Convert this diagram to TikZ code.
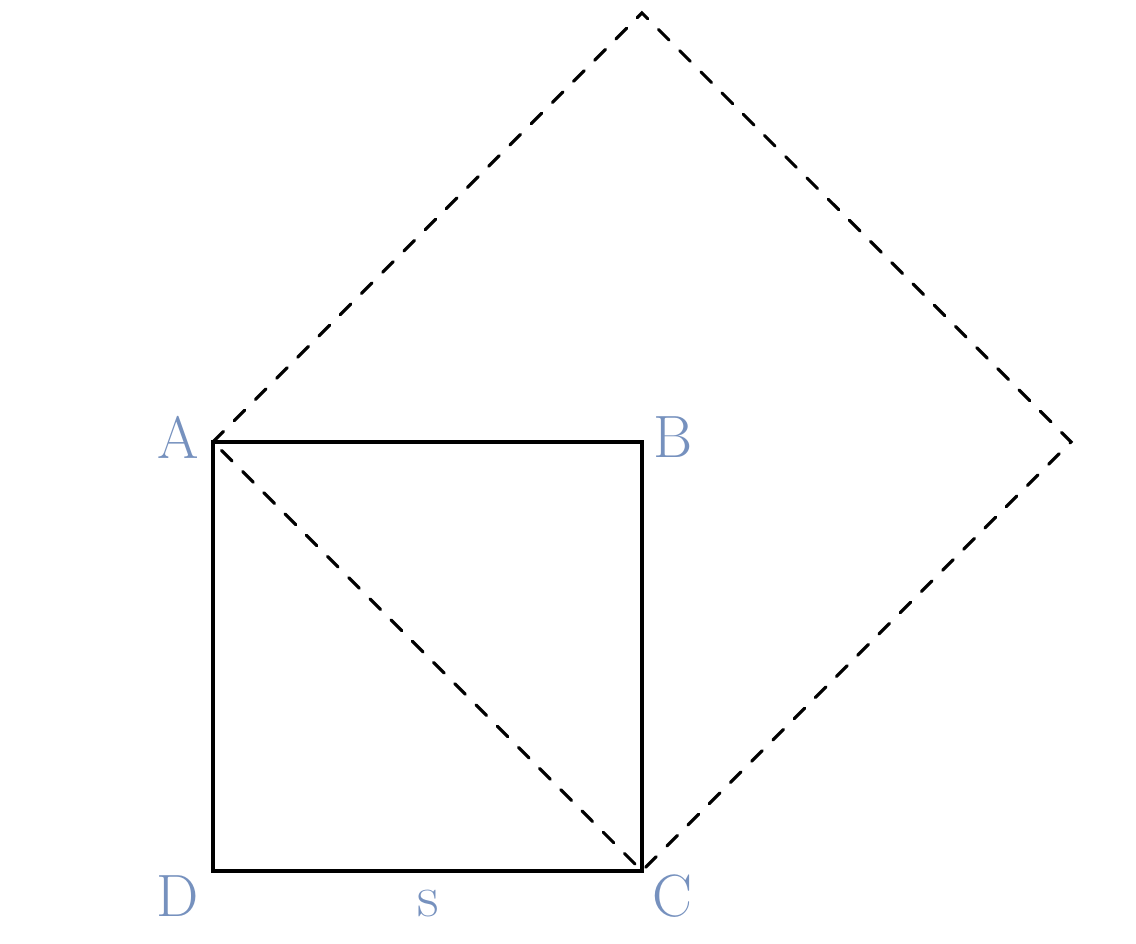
\documentclass[tikz,border=0pt]{standalone}
\usepackage{tikz}
\usetikzlibrary{positioning}
\definecolor{labelblue}{RGB}{118,145,190}
\tikzset{
    %Define style for corner labels
    corner/.style={
           text=labelblue,
           font=\fontsize{17}{20}\selectfont,
           inner sep=0pt,
           text centered},
    %Define style for the sides
    side/.style={
           draw=black,
           line width=0.9pt},
    dashside/.style={
           draw=black,
           line width=0.9pt,
           line cap=round,
           dash pattern=on 0.15cm off 0.15cm}
}
\begin{document}
\begin{tikzpicture}
\useasboundingbox (0,0) rectangle (11.36,9.44);
 %points
\coordinate (A) at (2.13,5.02);
\coordinate (B) at (6.42,5.02);
\coordinate (C) at (6.42,0.73);
\coordinate (D) at (2.13,0.73);
\coordinate (E) at (6.42,9.31);
\coordinate (F) at (10.71,5.02);
 %labels
\node[corner](la) at (1.78,5.07){A};
\node[corner](lb) at (6.73,5.07){B};
\node[corner](lc) at (6.72,0.48){C};
\node[corner](ld) at (1.78,0.48){D};
\node[corner](ls) at (4.28,0.40){s};
 %square
\draw[side] (A) -- (B) -- (C) -- (D) -- cycle;
\draw[dashside] (A) -- (E) -- (F) -- (C) -- cycle;
\end{tikzpicture}
\end{document}
